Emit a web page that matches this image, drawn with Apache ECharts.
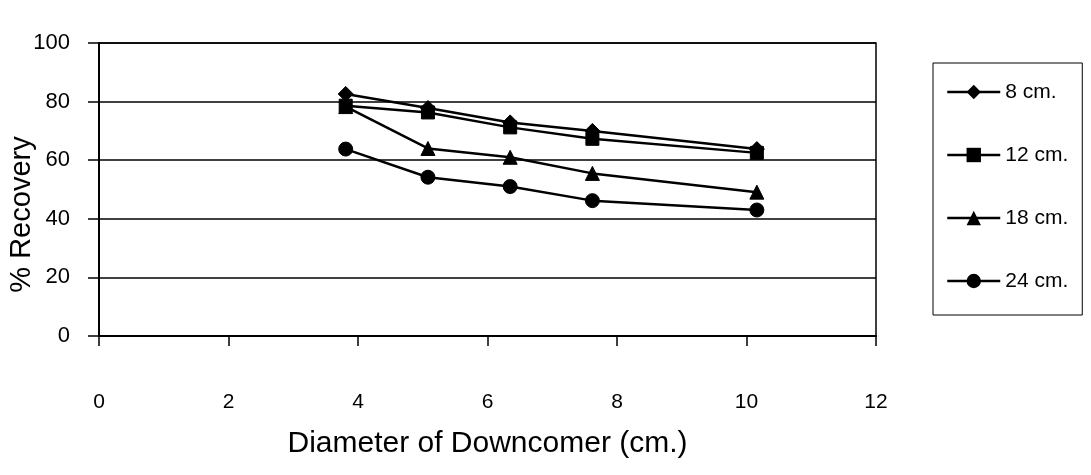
<!DOCTYPE html>
<html>
<head>
<meta charset="utf-8">
<script src="https://cdn.jsdelivr.net/npm/echarts@6/dist/echarts.min.js"></script>
<style>
html,body{margin:0;padding:0;background:#fff;}
#c{width:1091px;height:475px;}
</style>
</head>
<body>
<div id="c"></div>
<script>
const diameters = [3.81, 5.08, 6.35, 7.62, 10.16];
const seriesNames = ['8 cm.', '12 cm.', '18 cm.', '24 cm.'];
const rec8 = [82.6, 77.8, 72.9, 70.0, 63.8];
const rec12 = [78.6, 76.3, 71.2, 67.3, 62.5];
const rec18 = [78.3, 64.0, 61.0, 55.5, 49.1];
const rec24 = [63.8, 54.2, 51.0, 46.2, 43.0];
const xTicks = [0, 2, 4, 6, 8, 10, 12];
const yTicks = [0, 20, 40, 60, 80, 100];
const symbols = ['diamond', 'rect', 'triangle', 'circle'];
const symbolSizes = [15, 13, 14, 14];

const FONT = '"Liberation Sans", Arial, sans-serif';
const values = [rec8, rec12, rec18, rec24];

const chart = echarts.init(document.getElementById('c'), null, {renderer: 'canvas'});
chart.setOption({
  animation: false,
  backgroundColor: '#fff',
  grid: {
    left: 99, right: 215, top: 43, bottom: 139,
    outerBoundsMode: 'none', containLabel: false,
    show: true, borderColor: '#000', borderWidth: 1.5, backgroundColor: 'transparent'
  },
  legend: {
    orient: 'vertical',
    left: 933, top: 63,
    padding: [18, 14, 23, 13],
    borderColor: '#000', borderWidth: 1,
    itemWidth: 53, itemHeight: 18, itemGap: 41,
    lineStyle: {width: 2.5, color: '#000'},
    textStyle: {fontFamily: FONT, fontSize: 21, color: '#000', lineHeight: 22},
    data: seriesNames
  },
  xAxis: {
    type: 'value', min: xTicks[0], max: xTicks[xTicks.length - 1], interval: 2,
    name: 'Diameter of Downcomer (cm.)', nameLocation: 'middle', nameGap: 93,
    nameMoveOverlap: false,
    nameTextStyle: {fontFamily: FONT, fontSize: 30, color: '#000'},
    axisLine: {show: true, onZero: false, lineStyle: {color: '#000', width: 2}},
    axisTick: {show: true, inside: false, length: 10, lineStyle: {color: '#000', width: 1.5}},
    axisLabel: {margin: 56, fontFamily: FONT, fontSize: 21, color: '#000',
      formatter: v => String(v)},
    splitLine: {show: false}
  },
  yAxis: {
    type: 'value', min: yTicks[0], max: yTicks[yTicks.length - 1], interval: 20,
    name: '% Recovery', nameLocation: 'middle', nameGap: 63,
    nameMoveOverlap: false,
    nameTextStyle: {fontFamily: FONT, fontSize: 29, color: '#000', padding: [0, 50, 0, 0]},
    axisLine: {show: true, lineStyle: {color: '#000', width: 2}},
    axisTick: {show: true, inside: false, length: 11, lineStyle: {color: '#000', width: 1.5}},
    axisLabel: {margin: 29, fontFamily: FONT, fontSize: 22, color: '#000'},
    splitLine: {show: true, lineStyle: {color: '#000', width: 1.5}}
  },
  series: seriesNames.map((name, i) => ({
    name: name,
    type: 'line',
    data: diameters.map((d, j) => [d, values[i][j]]),
    symbol: symbols[i],
    symbolSize: symbolSizes[i],
    showAllSymbol: true,
    lineStyle: {color: '#000', width: 2.5},
    itemStyle: {color: '#000', borderColor: '#000'},
    emphasis: {disabled: true}
  }))
});
</script>
</body>
</html>
